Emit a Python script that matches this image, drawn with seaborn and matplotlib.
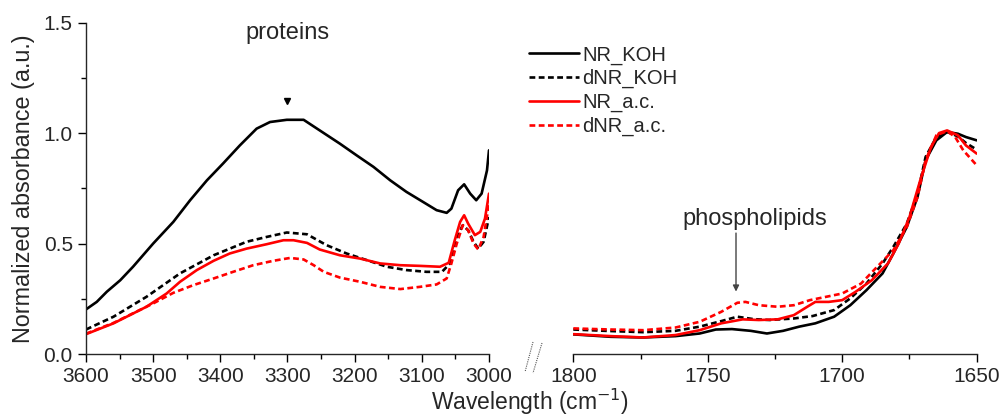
import numpy as np
import pandas as pd
import matplotlib
matplotlib.use("Agg")
import matplotlib.pyplot as plt
from matplotlib.lines import Line2D
from matplotlib.ticker import MultipleLocator
import seaborn as sns

# ---------------- data ----------------
# high-wavenumber region (cm-1)
x_hi_nr_koh = [3600, 3584, 3569, 3549, 3530, 3500, 3470, 3445, 3420, 3396, 3371, 3346, 3326, 3301,
               3276, 3252, 3222, 3197, 3172, 3147, 3123, 3098, 3078, 3063, 3056, 3046, 3037, 3028,
               3019, 3011, 3003, 3000]
nr_koh_hi = [0.202, 0.236, 0.282, 0.334, 0.395, 0.50, 0.598, 0.696, 0.786, 0.862, 0.944, 1.02, 1.05, 1.06,
             1.06, 1.012, 0.952, 0.899, 0.847, 0.786, 0.734, 0.688, 0.651, 0.639, 0.658, 0.741, 0.768, 0.726,
             0.696, 0.726, 0.831, 0.922]

x_hi_dnr_koh = [3600, 3559, 3510, 3460, 3410, 3361, 3331, 3301, 3271, 3242, 3212, 3182, 3152, 3123,
                3093, 3070, 3058, 3048, 3039, 3031, 3023, 3016, 3008, 3000]
dnr_koh_hi = [0.111, 0.169, 0.259, 0.365, 0.447, 0.508, 0.530, 0.55, 0.542, 0.493, 0.455, 0.425, 0.395, 0.38,
              0.372, 0.372, 0.41, 0.53, 0.583, 0.56, 0.508, 0.477, 0.508, 0.62]

x_hi_nr_ac = [3600, 3559, 3510, 3480, 3460, 3435, 3410, 3386, 3361, 3331, 3306, 3291, 3271, 3252,
              3222, 3192, 3162, 3132, 3103, 3073, 3060, 3051, 3043, 3037, 3031, 3021, 3013, 3006, 3000]
nr_ac_hi = [0.09, 0.139, 0.214, 0.274, 0.327, 0.38, 0.422, 0.455, 0.477, 0.497, 0.515, 0.515, 0.503, 0.473,
            0.447, 0.432, 0.41, 0.402, 0.399, 0.395, 0.413, 0.515, 0.598, 0.628, 0.59, 0.538, 0.553, 0.613, 0.726]

x_hi_dnr_ac = [3600, 3559, 3500, 3470, 3440, 3410, 3381, 3351, 3321, 3296, 3276, 3261, 3246, 3222,
               3192, 3162, 3132, 3103, 3078, 3063, 3056, 3048, 3039, 3031, 3023, 3016, 3008, 3000]
dnr_ac_hi = [0.092, 0.141, 0.229, 0.277, 0.312, 0.342, 0.372, 0.402, 0.422, 0.435, 0.428, 0.402, 0.372, 0.346,
             0.327, 0.304, 0.294, 0.304, 0.315, 0.342, 0.41, 0.50, 0.583, 0.56, 0.50, 0.473, 0.53, 0.68]

# low-wavenumber region (cm-1)
x_lo_nr_koh = [1800, 1786, 1774, 1762, 1753, 1747, 1741, 1734, 1728, 1722, 1716, 1710, 1703, 1697,
               1691, 1685, 1681, 1676, 1672, 1669, 1665, 1661, 1657, 1654, 1650]
nr_koh_lo = [0.089, 0.078, 0.075, 0.081, 0.093, 0.111, 0.113, 0.105, 0.093, 0.105, 0.124, 0.139, 0.169, 0.221,
             0.289, 0.365, 0.455, 0.575, 0.711, 0.877, 0.967, 1.005, 0.997, 0.982, 0.967]

x_lo_dnr_koh = [1800, 1786, 1774, 1762, 1753, 1745, 1739, 1733, 1727, 1718, 1711, 1703, 1697, 1691,
                1685, 1681, 1676, 1672, 1669, 1665, 1661, 1657, 1654, 1650]
dnr_koh_lo = [0.111, 0.104, 0.099, 0.105, 0.124, 0.149, 0.169, 0.158, 0.154, 0.161, 0.172, 0.199, 0.252, 0.319,
              0.41, 0.485, 0.59, 0.726, 0.892, 0.982, 1.005, 0.985, 0.955, 0.925]

x_lo_nr_ac = [1800, 1786, 1774, 1762, 1753, 1745, 1737, 1731, 1724, 1718, 1713, 1710, 1705, 1700,
              1695, 1689, 1683, 1679, 1675, 1671, 1667, 1664, 1661, 1657, 1654, 1650]
nr_ac_lo = [0.09, 0.081, 0.075, 0.086, 0.108, 0.139, 0.157, 0.154, 0.157, 0.176, 0.214, 0.236, 0.236, 0.244,
            0.282, 0.334, 0.41, 0.50, 0.62, 0.786, 0.937, 1.0, 1.012, 0.99, 0.944, 0.907]

x_lo_dnr_ac = [1800, 1786, 1774, 1762, 1753, 1745, 1739, 1736, 1731, 1724, 1718, 1712, 1706, 1700,
               1693, 1687, 1681, 1676, 1672, 1669, 1665, 1661, 1658, 1655, 1650]
dnr_ac_lo = [0.116, 0.111, 0.108, 0.12, 0.146, 0.191, 0.232, 0.236, 0.221, 0.214, 0.221, 0.244, 0.259, 0.274,
             0.319, 0.395, 0.47, 0.575, 0.711, 0.877, 0.99, 1.009, 0.982, 0.922, 0.854]

series_names = ["NR_KOH", "dNR_KOH", "NR_a.c.", "dNR_a.c."]
x_ticks_hi = [3600, 3500, 3400, 3300, 3200, 3100, 3000]
x_ticks_lo = [1800, 1750, 1700, 1650]
y_ticks = [0.0, 0.5, 1.0, 1.5]

# ---------------- style ----------------
sns.set_style("ticks")
plt.rcParams['font.family'] = ['Liberation Sans', 'DejaVu Sans']
plt.rcParams['xtick.direction'] = 'out'
plt.rcParams['ytick.direction'] = 'out'

colors = ["black", "black", "#ff0000", "#ff0000"]
dashed = [False, True, False, True]
lw = 1.9
dash = (2.2, 1.3)

fig = plt.figure(figsize=(10, 4.18), dpi=100)
ax1 = fig.add_axes([0.086, 0.153, 0.403, 0.793])
ax2 = fig.add_axes([0.5733, 0.153, 0.4034, 0.793])

hi_data = [(x_hi_nr_koh, nr_koh_hi), (x_hi_dnr_koh, dnr_koh_hi),
           (x_hi_nr_ac, nr_ac_hi), (x_hi_dnr_ac, dnr_ac_hi)]
lo_data = [(x_lo_nr_koh, nr_koh_lo), (x_lo_dnr_koh, dnr_koh_lo),
           (x_lo_nr_ac, nr_ac_lo), (x_lo_dnr_ac, dnr_ac_lo)]

for i, name in enumerate(series_names):
    for ax, (xs, ys) in ((ax1, hi_data[i]), (ax2, lo_data[i])):
        sns.lineplot(x=xs, y=ys, ax=ax, color=colors[i], lw=lw,
                     label=name if ax is ax2 else None, sort=False, estimator=None)
        line = ax.get_lines()[-1]
        line.set_solid_joinstyle('round')
        if dashed[i]:
            line.set_dashes(dash)

for ax in (ax1, ax2):
    ax.set_ylim(0, 1.5)
    ax.tick_params(axis='both', which='major', length=6, width=1, labelsize=15, color='black')
    ax.tick_params(axis='both', which='minor', length=3.5, width=1, color='black')
    ax.spines['top'].set_visible(False)
    ax.spines['right'].set_visible(False)
    ax.spines['bottom'].set_linewidth(1)
    ax.set_xlabel("")
    ax.set_ylabel("")

ax1.set_xlim(3600, 3000)
ax1.set_xticks(x_ticks_hi)
ax1.xaxis.set_minor_locator(MultipleLocator(50))
ax1.set_yticks(y_ticks)
ax1.set_yticklabels([f"{v:.1f}" for v in y_ticks])
ax1.yaxis.set_minor_locator(MultipleLocator(0.25))
ax1.spines['left'].set_linewidth(1)
ax1.set_ylabel("Normalized absorbance (a.u.)", fontsize=16.8, labelpad=6)

ax2.set_xlim(1800, 1650)
ax2.set_xticks(x_ticks_lo)
ax2.xaxis.set_minor_locator(MultipleLocator(25))
ax2.spines['left'].set_visible(False)
ax2.tick_params(axis='y', which='both', left=False, labelleft=False)

fig.text(0.53, 0.003, "Wavelength (cm$^{-1}$)", ha='center', va='bottom', fontsize=16.5)

# annotations
ax1.text(3300, 1.455, "proteins", ha='center', va='center', fontsize=17)
ax1.plot([3300], [1.145], marker='v', color='black', markersize=5, lw=0)
ax2.text(1732.5, 0.61, "phospholipids", ha='center', va='center', fontsize=17)
ax2.annotate("", xy=(1739.5, 0.27), xytext=(1739.5, 0.56),
             arrowprops=dict(arrowstyle='-|>', color='#444444', lw=1, mutation_scale=9))

# legend
ax2.legend(loc='upper left', bbox_to_anchor=(-0.13, 0.955), frameon=False, fontsize=14.5,
           handlelength=2.5, handletextpad=0.15, labelspacing=0.22, borderaxespad=0)

# axis break marks
for (x0, y0, x1, y1) in [(0.533, 1 - 342 / 418, 0.525, 1 - 372 / 418),
                         (0.542, 1 - 343 / 418, 0.533, 1 - 373 / 418)]:
    fig.add_artist(Line2D([x0, x1], [y0, y1], transform=fig.transFigure, color='#555555',
                          lw=0.8, linestyle=(0, (1, 1))))

fig.savefig("out.png", dpi=100)
